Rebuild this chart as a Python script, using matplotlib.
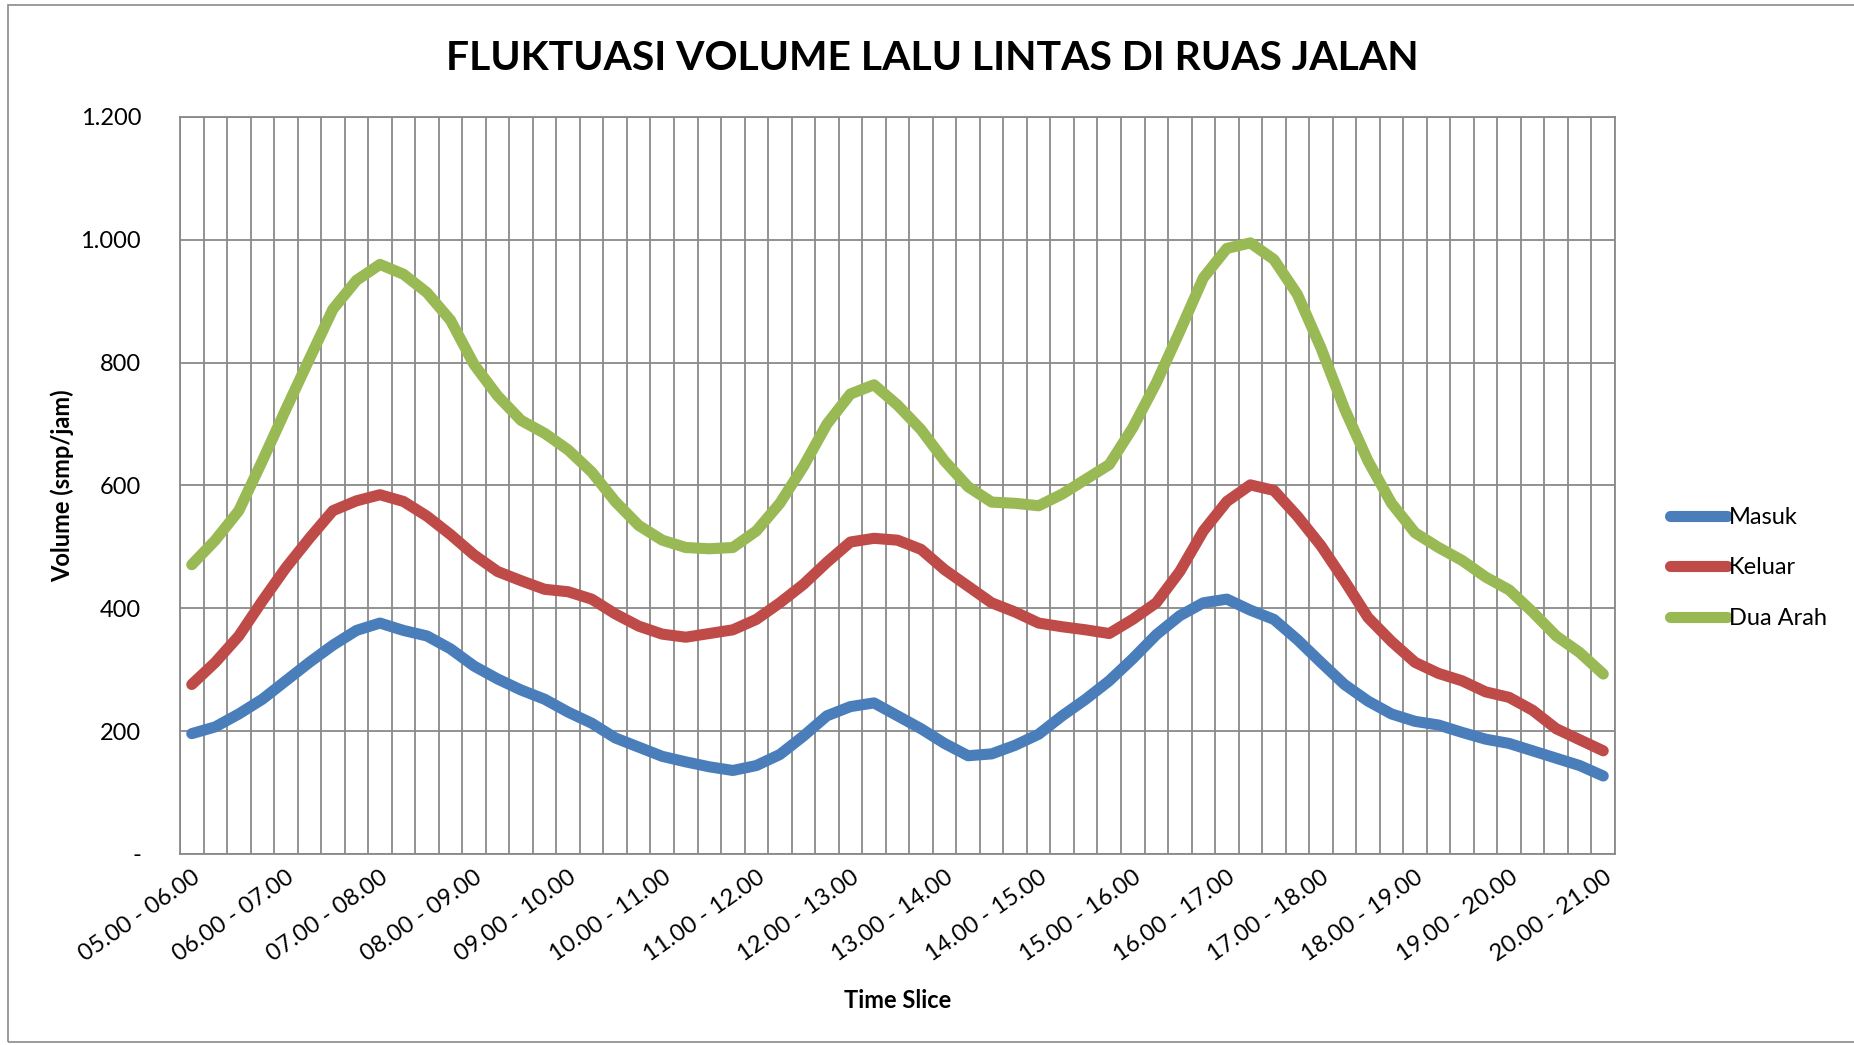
import numpy as np
import matplotlib
matplotlib.use("Agg")
import matplotlib.pyplot as plt
from matplotlib.ticker import FixedLocator
from matplotlib.patches import Rectangle

plt.rcParams['font.family'] = ['Lato', 'DejaVu Sans']

# 15-minute moving hourly windows, 05.00-06.00 ... 20.00-21.00
start_minutes = list(range(5 * 60, 20 * 60 + 1, 15))
categories = [f"{m // 60:02d}.{m % 60:02d} - {(m + 60) // 60:02d}.{m % 60:02d}" for m in start_minutes]

masuk = [196, 207, 228, 252, 282, 312, 340, 364, 376, 364,
         355, 334, 306, 285, 267, 252, 231, 213, 189, 174,
         159, 150, 142, 136, 144, 162, 192, 225, 240, 246,
         225, 204, 180, 160, 163, 177, 195, 225, 252, 282,
         318, 357, 388, 409, 415, 397, 382, 349, 312, 276,
         249, 228, 216, 210, 198, 187, 180, 168, 156, 144, 127]

keluar = [276, 312, 355, 412, 466, 514, 559, 575, 585, 574,
          550, 520, 487, 460, 445, 431, 427, 415, 391, 371,
          358, 353, 359, 365, 382, 409, 439, 475, 508, 514,
          511, 496, 463, 436, 409, 394, 376, 370, 365, 359,
          382, 409, 460, 526, 574, 601, 592, 550, 502, 445,
          385, 346, 312, 294, 282, 264, 255, 234, 204, 186, 168]

dua_arah = [471, 511, 559, 640, 724, 806, 887, 934, 960, 944,
            914, 869, 797, 746, 706, 685, 658, 622, 574, 535,
            511, 499, 497, 499, 526, 571, 631, 700, 749, 764,
            731, 691, 640, 598, 573, 571, 567, 586, 610, 634,
            694, 767, 851, 938, 986, 995, 968, 911, 824, 725,
            640, 571, 523, 499, 478, 451, 430, 394, 355, 328, 293]

series_names = ["Masuk", "Keluar", "Dua Arah"]
series_colors = ["#4A7EBB", "#BE4B48", "#98B954"]

y_ticks = [0, 200, 400, 600, 800, 1000, 1200]
y_tick_labels = ["-", "200", "400", "600", "800", "1.000", "1.200"]

W, H = 1854, 1045
fig = plt.figure(figsize=(W / 100, H / 100), dpi=100)
ax = fig.add_axes([180 / W, 1 - 854 / H, (1615 - 180) / W, (854 - 117) / H])

x = np.arange(len(categories))
for vals, name, col in zip([masuk, keluar, dua_arah], series_names, series_colors):
    ax.plot(x, vals, color=col, lw=8.0, label=name, solid_joinstyle='round',
            solid_capstyle='round', zorder=3)

fs = 17
grid_col = "#898989"
ax.set_xlim(-0.5, len(categories) - 0.5)
ax.set_ylim(0, 1200)
ax.xaxis.set_major_locator(FixedLocator(x[::4]))
ax.set_xticklabels(categories[::4], rotation=35, ha='right', va='top',
                   rotation_mode='anchor', fontsize=fs)
ax.xaxis.set_minor_locator(FixedLocator(np.arange(-0.5, len(categories), 1.0)))
ax.set_yticks(y_ticks)
ax.set_yticklabels(y_tick_labels, fontsize=fs)
ax.tick_params(axis='both', which='both', length=0)
ax.tick_params(axis='x', pad=9)
ax.tick_params(axis='y', pad=28)
ax.grid(True, axis='x', which='minor', color=grid_col, lw=1.3, zorder=1)
ax.grid(True, axis='y', which='major', color=grid_col, lw=1.3, zorder=1)
ax.grid(False, axis='x', which='major')
for s in ax.spines.values():
    s.set_color(grid_col)
    s.set_linewidth(1.3)

ax.set_ylabel("Volume (smp/jam)", fontsize=fs, fontweight='bold')
ax.set_xlabel("Time Slice", fontsize=fs, fontweight='bold')
ax.yaxis.set_label_coords(-(180 - 74) / (1615 - 180), 0.5)
ax.xaxis.set_label_coords(0.5, -(989 - 854) / (854 - 117))

fig.text(932 / W, 1 - 59 / H, "FLUKTUASI VOLUME LALU LINTAS DI RUAS JALAN",
         ha='center', va='center', fontsize=29.4, fontweight='bold')

leg = fig.legend(loc='center left', bbox_to_anchor=(1649 / W, 1 - 568 / H),
                 frameon=False, fontsize=fs, handlelength=2.4, handletextpad=0.08,
                 labelspacing=1.25)

fig.patches.append(Rectangle((8 / W, 1 - 1042 / H), (1900 - 8) / W, (1042 - 5) / H,
                             transform=fig.transFigure, fill=False,
                             edgecolor="#8A8A8A", lw=1.2))

fig.savefig("out.png", dpi=100, facecolor='white')
